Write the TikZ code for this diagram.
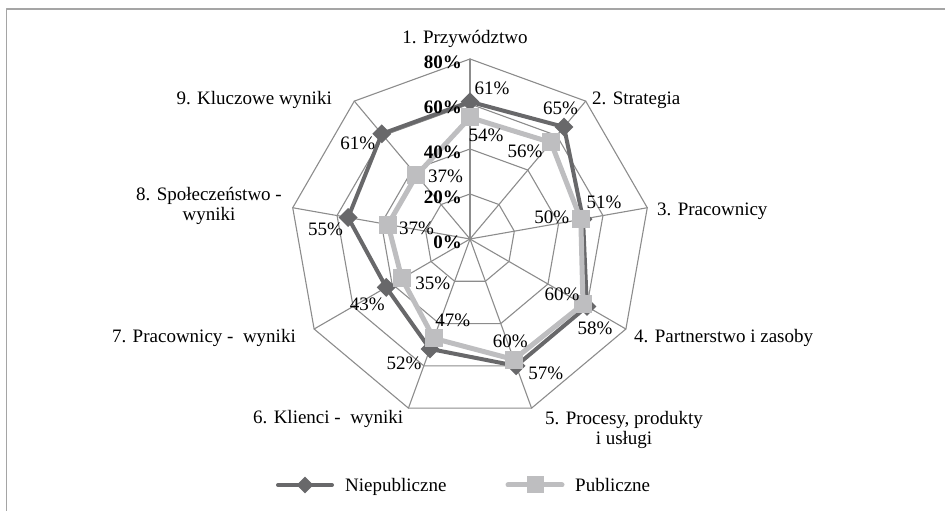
\documentclass[tikz,border=0pt]{standalone}
\usepackage{fontspec}
\setmainfont{Liberation Serif}
\usetikzlibrary{shapes.geometric}
\definecolor{ndark}{RGB}{104,104,106}
\definecolor{plight}{RGB}{190,190,192}
\definecolor{gridgray}{RGB}{140,140,140}
\definecolor{framegray}{RGB}{165,165,165}
\begin{document}
\begin{tikzpicture}[x=1pt,y=1pt,line cap=round,line join=round]
	\tikzset{every node/.style={font=\fontsize{19}{20}\selectfont,inner sep=0pt},
		gridline/.style={gridgray,line width=1.1pt},
		nline/.style={ndark,line width=4pt},
		pline/.style={plight,line width=5pt},
		nmark/.style={diamond,fill=ndark,minimum width=19pt,minimum height=19pt},
		pmark/.style={rectangle,fill=plight,minimum size=18pt},
		ticklab/.style={font=\fontsize{19}{20}\selectfont\bfseries,anchor=east},
		catlab/.style={align=center}}
	\useasboundingbox (0,0) rectangle (945,511);
	\draw[framegray,line width=1.5pt,line cap=butt] (6.5,0) -- (6.5,502) -- (945,502);
	\begin{scope}[shift={(470,272)}]
		\coordinate (c) at (0,0);
		\foreach \k in {1,...,9}{\coordinate (v\k) at ({130-40*\k}:180);}
		\foreach \r in {45,90,135,180}{\draw[gridline] (90:\r) \foreach \k in {1,...,8}{ -- ({90-40*\k}:\r)} -- cycle;}
		\foreach \k in {1,...,9}{\draw[gridline] (c) -- (v\k);}
		% series
		\foreach \v [count=\k] in {61,65,51,60,60,52,43,55,61}{\coordinate (n\k) at ({130-40*\k}:{\v*2.25});}
		\foreach \v [count=\k] in {54,56,50,58,57,47,35,37,37}{\coordinate (p\k) at ({130-40*\k}:{\v*2.25});}
		\draw[nline] (n1) \foreach \k in {2,...,9}{ -- (n\k)} -- cycle;
		\foreach \k in {1,...,9}{\node[nmark] (nm\k) at (n\k) {};}
		\draw[pline] (p1) \foreach \k in {2,...,9}{ -- (p\k)} -- cycle;
		\foreach \k in {1,...,9}{\node[pmark] (pm\k) at (p\k) {};}
		% scale and values
		\foreach \p in {0,20,40,60,80}{\node[ticklab] (t\p) at (-8,{\p*2.25-3}) {\p\%};}
		\foreach \v/\dx/\dy [count=\k] in {61/22/13,65/-3.5/19,51/21/17,60/-25/12.5,60/-6/25,52/-26/-14,43/-19/-17,55/-22.5/-11.5,61/-24/-9}
			{\node[xshift=\dx pt,yshift=\dy pt] (nl\k) at (n\k) {\v\%};}
		\foreach \v/\dx/\dy [count=\k] in {54/16/-18,56/-26/-8.5,50/-29/2,58/12/-24,57/32/-13.5,47/19/18,35/31/-4.6,37/28.5/-3.5,37/29/-1}
			{\node[xshift=\dx pt,yshift=\dy pt] (pl\k) at (p\k) {\v\%};}
	\end{scope}
	% categories
	\node[anchor=base] (cat1) at (465,467) {1. Przywództwo};
	\node[anchor=base west] (cat2) at (592,406) {2. Strategia};
	\node[anchor=base west] (cat3) at (657,295) {3. Pracownicy};
	\node[anchor=base west] (cat4) at (634,168) {4. Partnerstwo i zasoby};
	\node[catlab,anchor=base] (cat5) at (624,66) {5. Procesy, produkty\\ i usługi};
	\node[anchor=base west] (cat6) at (253,87) {6. Klienci -\ \ wyniki};
	\node[anchor=base east] (cat7) at (296,168) {7. Pracownicy -\ \ wyniki};
	\node[catlab,anchor=base] (cat8) at (209,290) {8. Społeczeństwo -\\ wyniki};
	\node[anchor=base east] (cat9) at (332,406) {9. Kluczowe wyniki};
	% legend
	\coordinate (lna) at (278,26); \coordinate (lnb) at (332,26);
	\coordinate (lpa) at (508,26); \coordinate (lpb) at (562,26);
	\draw[nline] (lna) -- (lnb);
	\node[nmark,minimum width=17pt,minimum height=17pt] (lnm) at (305,26) {};
	\node[anchor=base west] (lnt) at (345,19) {Niepubliczne};
	\draw[pline] (lpa) -- (lpb);
	\node[pmark,minimum size=17pt] (lpm) at (535,26) {};
	\node[anchor=base west] (lpt) at (575,19) {Publiczne};
\end{tikzpicture}
\end{document}
